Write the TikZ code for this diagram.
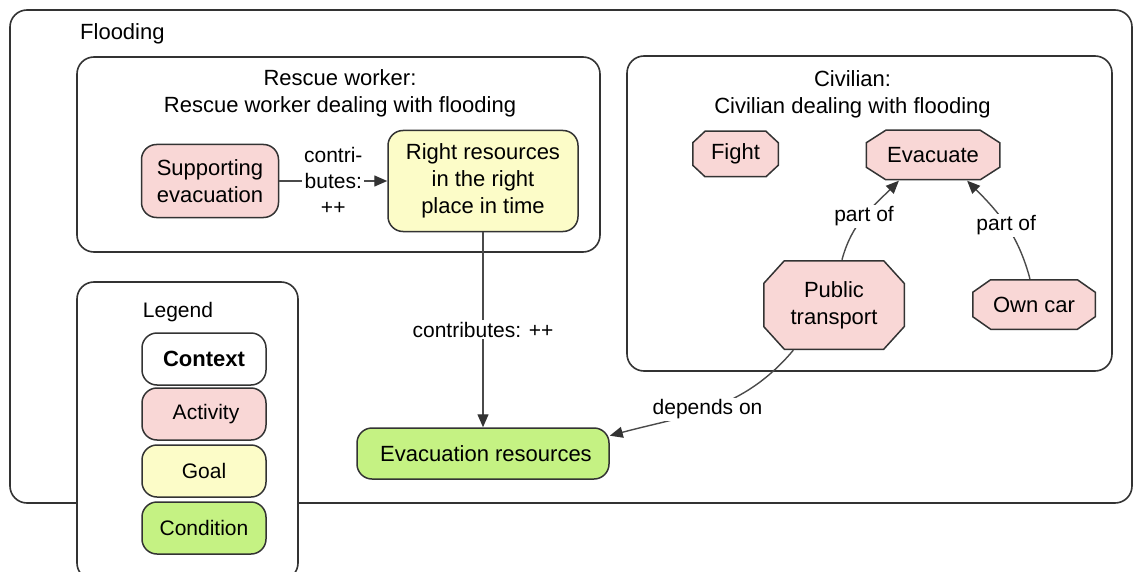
\documentclass[tikz,border=0pt]{standalone}
\usepackage{fontspec}
\setmainfont{Liberation Sans}
\usetikzlibrary{arrows.meta,calc}
\definecolor{ink}{HTML}{333333}
\definecolor{wire}{HTML}{4A4A4A}
\definecolor{actfill}{HTML}{F9D7D6}
\definecolor{goalfill}{HTML}{FCFCC8}
\definecolor{condfill}{HTML}{C5F283}
\newcommand{\nodefont}{\fontsize{22}{27}\selectfont}
\newcommand{\labelfont}{\fontsize{21}{26}\selectfont}
\tikzset{
  frame/.style={draw=ink, line width=1.6pt, rounded corners=17pt},
  roundbox/.style={draw=ink, line width=1.5pt, rounded corners=15pt, align=center,
    font=\nodefont, inner sep=0pt},
  activity/.style={roundbox, fill=actfill},
  goal/.style={roundbox, fill=goalfill},
  condition/.style={roundbox, fill=condfill},
  context/.style={roundbox, fill=white},
  % octagonal activity: chamfered outline drawn inside the node's rectangle
  octo/.style={rectangle, inner sep=0pt, align=center, font=\nodefont,
    path picture={
      \path[fill=actfill, draw=ink, line width=1.5pt]
        let \p1=(path picture bounding box.south west),
            \p2=(path picture bounding box.north east),
            \n1={0.15*(\x2-\x1)}, \n2={0.26*(\y2-\y1)}, \n3={0.75}
        in ({\x1+\n1},{\y1+\n3}) -- ({\x2-\n1},{\y1+\n3})
           -- ({\x2-\n3},{\y1+\n2}) -- ({\x2-\n3},{\y2-\n2})
           -- ({\x2-\n1},{\y2-\n3}) -- ({\x1+\n1},{\y2-\n3})
           -- ({\x1+\n3},{\y2-\n2}) -- ({\x1+\n3},{\y1+\n2}) -- cycle;
    }},
  link/.style={draw=wire, line width=1.4pt,
    -{Triangle[length=13pt,width=11pt,color=ink]}},
  tag/.style={fill=white, inner sep=2pt, font=\labelfont, align=center},
  title/.style={font=\nodefont, align=center, inner sep=0pt},
}
\begin{document}
\begin{tikzpicture}[x=1pt,y=1pt]
\useasboundingbox (0,0) rectangle (1134,-572);
\clip (0,0) rectangle (1134,-572);

% outer context
\draw[frame] (10,-10) rectangle (1132,-503);
\node[title, anchor=west] (flood) at (80,-34) {Flooding};

% rescue worker context
\draw[frame] (77,-57) rectangle (600,-252);
\node[title] (rwtitle) at (340,-93.5) {Rescue worker:\\Rescue worker dealing with flooding};
\node[activity, minimum width=137, minimum height=73] (sup) at (210,-181) {Supporting\\evacuation};
\node[goal, minimum width=190, minimum height=101] (rr) at (483,-181) {Right resources\\in the right\\place in time};

% civilian context
\draw[frame] (627,-56) rectangle (1112,-371);
\node[title] (cvtitle) at (852.5,-94) {Civilian:\\Civilian dealing with flooding};
\node[octo, minimum width=87, minimum height=47] (fight) at (735.5,-154) {Fight};
\node[octo, minimum width=135, minimum height=51] (evac) at (933,-155) {Evacuate};
\node[octo, minimum width=142, minimum height=90] (pt) at (834,-305) {Public\\transport};
\node[octo, minimum width=124, minimum height=51] (car) at (1034,-304.5) {Own car};

% condition
\node[condition, minimum width=252, minimum height=51] (er) at (483,-453.5) {\hspace{6pt}Evacuation resources};

% legend
\draw[frame, fill=white] (77,-282) rectangle (298,-580);
\node[title] (legtitle) at (178,-312) {\fontsize{21}{26}\selectfont Legend};
\node[context, minimum width=124, minimum height=52] (lctx) at (204,-359) {\bfseries Context};
\node[activity, minimum width=124, minimum height=52] (lact) at (204,-414) {\fontsize{21}{26}\selectfont\raisebox{-3pt}{\hspace{4pt}Activity}};
\node[goal, minimum width=124, minimum height=52] (lgoal) at (204,-471) {\fontsize{21}{26}\selectfont\raisebox{-2pt}{Goal}};
\node[condition, minimum width=124, minimum height=52] (lcond) at (204,-528) {\fontsize{21}{26}\selectfont\raisebox{-2pt}{Condition}};

% relations
\draw[link] (sup) -- node[tag]{contri-\\butes:\\++} (rr);
\draw[link] (rr) -- node[tag]{contributes: ++} (er);
\draw[link] (pt.-132) to[out=-130, in=15] node[tag, pos=0.52]{depends on} (er.8);
\draw[link] (pt.80) to[out=75, in=-135] node[tag, pos=0.5]{part of} (evac.-143);
\draw[link] (car.99) to[out=105, in=-45] node[tag, pos=0.5]{part of} (evac.-37);
\end{tikzpicture}
\end{document}
